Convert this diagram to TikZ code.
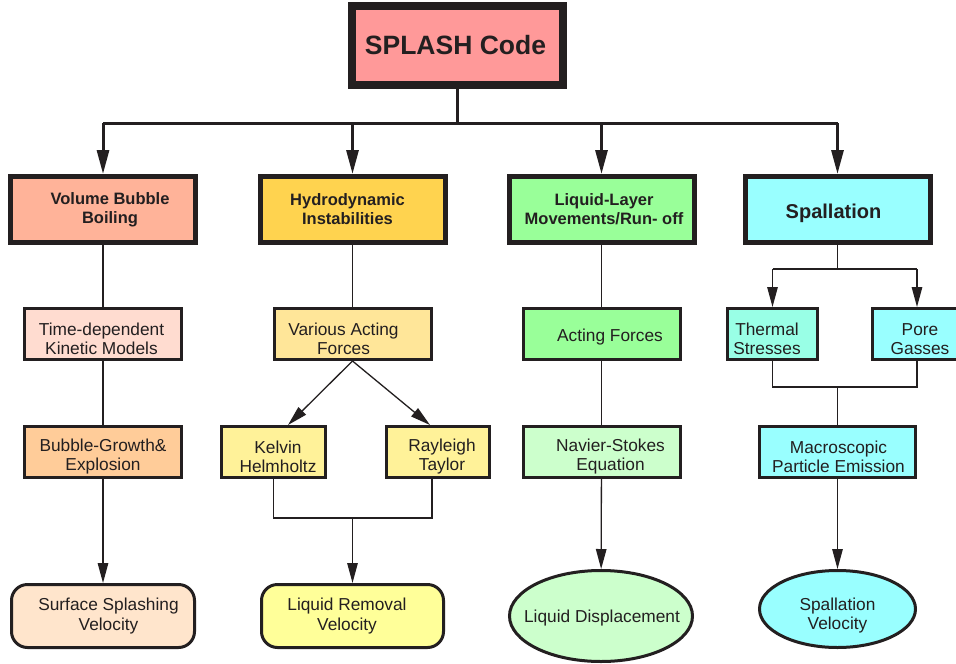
\documentclass[tikz,border=0pt]{standalone}
\usepackage{fontspec}
\setmainfont{Liberation Sans}
\usetikzlibrary{arrows.meta,calc,shapes.geometric}

\definecolor{ink}{HTML}{231F20}
\definecolor{cRoot}{HTML}{FF9999}
\definecolor{cBubble}{HTML}{FFB399}
\definecolor{cHydro}{HTML}{FFD34F}
\definecolor{cLiquid}{HTML}{99FF99}
\definecolor{cSpall}{HTML}{99FFFF}
\definecolor{cKinetic}{HTML}{FFDCD0}
\definecolor{cVarious}{HTML}{FFE699}
\definecolor{cGrowth}{HTML}{FFCC99}
\definecolor{cKH}{HTML}{FFF299}
\definecolor{cThermal}{HTML}{99FFE6}
\definecolor{cNavier}{HTML}{CCFFCC}
\definecolor{cSurface}{HTML}{FFE5CC}
\definecolor{cRemoval}{HTML}{FFFF99}

\tikzset{
  % box shapes (text is attached as a centred label so it can be nudged)
  rootbox/.style={draw=ink, line width=8pt, fill=cRoot, minimum width=211pt,
    minimum height=79pt, inner sep=0pt},
  topicbox/.style={draw=ink, line width=5pt, minimum width=185pt, minimum height=66pt,
    inner sep=0pt},
  itembox/.style={draw=ink, line width=3pt, minimum width=157pt, minimum height=51pt,
    inner sep=0pt},
  resultbox/.style={draw=ink, line width=3pt, rounded corners=16pt, minimum width=183pt,
    minimum height=63pt, inner sep=0pt},
  resultoval/.style={draw=ink, line width=3pt, ellipse, inner sep=0pt},
  % text styles
  roottext/.style={text=ink, font=\fontsize{26.5}{30}\selectfont\bfseries, inner sep=0pt},
  topictext/.style={text=ink, align=center, font=\fontsize{16.5}{19}\selectfont\bfseries, inner sep=0pt},
  itemtext/.style={text=ink, align=center, font=\fontsize{17.3}{19}\selectfont, inner sep=0pt, yshift=-5pt},
  resulttext/.style={text=ink, align=center, font=\fontsize{17.3}{19.5}\selectfont, inner sep=0pt},
  % connectors
  busline/.style={draw=ink, line width=3pt},
  busarrow/.style={draw=ink, line width=3pt, -{Triangle[length=24pt,width=12pt]}},
  link/.style={draw=ink, line width=1.3pt},
  linkarrow/.style={draw=ink, line width=1.3pt, -{Triangle[length=20pt,width=10.5pt]}},
}

\begin{document}
\begin{tikzpicture}[x=1pt,y=-1pt]
\useasboundingbox (0,0) rectangle (956,664);
\clip (0,0) rectangle (956,664);
\fill[white] (0,0) rectangle (956,664);

% root
\node[rootbox, label={[roottext, xshift=-2pt]center:SPLASH Code}] (root) at (457.5,45.5) {};

% topic row
\node[topicbox, fill=cBubble, label={[topictext, xshift=7pt]center:Volume Bubble\\Boiling}] (vbb) at (103,209.5) {};
\node[topicbox, fill=cHydro, label={[topictext, xshift=-5pt]center:Hydrodynamic\\Instabilities}] (hyd) at (352.5,209.5) {};
\node[topicbox, fill=cLiquid, label={[topictext, xshift=2.5pt]center:Liquid-Layer\\Movements/Run- off}] (llm) at (601.5,209.5) {};
\node[topicbox, fill=cSpall, label={[topictext, xshift=-4pt, yshift=-4pt, font=\fontsize{20}{22}\selectfont\bfseries]center:Spallation}] (spl) at (837.5,209.5) {};

% second row
\node[itembox, fill=cKinetic, label={[itemtext, xshift=-1.5pt]center:Time-dependent\\Kinetic Models}] (kin) at (103,334) {};
\node[itembox, fill=cVarious, label={[itemtext, xshift=-9pt]center:Various Acting\\Forces}] (var) at (352.5,334) {};
\node[itembox, fill=cLiquid, label={[itemtext, xshift=8.5pt, yshift=2pt]center:Acting Forces}] (act) at (601.5,334) {};
\node[itembox, fill=cThermal, minimum width=90pt, label={[itemtext, xshift=-5.5pt]center:Thermal\\Stresses}] (thm) at (772.5,334) {};
\node[itembox, fill=cSpall, minimum width=89pt, label={[itemtext, xshift=3pt]center:Pore\\Gasses}] (pore) at (917,334) {};

% third row
\node[itembox, fill=cGrowth, label={[itemtext]center:Bubble-Growth\&\\Explosion}] (grw) at (103,452) {};
\node[itembox, fill=cKH, minimum width=104pt, label={[itemtext, xshift=4.5pt]center:Kelvin\\Helmholtz}] (kel) at (273.5,452) {};
\node[itembox, fill=cKH, minimum width=103pt, label={[itemtext, xshift=4pt]center:Rayleigh\\Taylor}] (ray) at (438,452) {};
\node[itembox, fill=cNavier, label={[itemtext, xshift=9pt]center:Navier-Stokes\\Equation}] (nav) at (601.5,452) {};
\node[itembox, fill=cSpall, minimum width=156pt, label={[itemtext, xshift=1pt]center:Macroscopic\\Particle Emission}] (mac) at (837.5,452) {};

% results
\node[resultbox, fill=cSurface, label={[resulttext, xshift=5.5pt]center:Surface Splashing\\Velocity}] (ssv) at (103,616) {};
\node[resultbox, fill=cRemoval, minimum width=182pt, label={[resulttext, xshift=-5.5pt]center:Liquid Removal\\Velocity}] (lrv) at (352.5,616) {};
\node[resultoval, fill=cNavier, minimum width=183pt, minimum height=91pt, label={[resulttext, xshift=1pt, yshift=-2pt]center:Liquid Displacement}] (ldp) at (601,616) {};
\node[resultoval, fill=cSpall, minimum width=156pt, minimum height=77pt, label={[resulttext, yshift=-6.5pt]center:Spallation\\Velocity}] (spv) at (837.5,609) {};

% main distribution bus
\coordinate (bus) at (457.5,123);
\draw[busline] (root.south) -- (bus);
\draw[busline] (vbb.north |- bus) -- (spl.north |- bus);
\foreach \t in {vbb,hyd,llm,spl}
  \draw[busarrow] (\t.north |- bus) -- (\t.north);

% volume bubble boiling chain
\draw[link] (vbb) -- (kin);
\draw[link] (kin) -- (grw);
\draw[linkarrow] (grw) -- (ssv);

% hydrodynamic instabilities chain
\draw[link] (hyd) -- (var);
\draw[linkarrow] (var.south) -- ($(kel.north)+(14.5,0)$);
\draw[linkarrow] (var.south) -- ($(ray.north)+(-8,0)$);
\coordinate (khjoin) at (352.5,518);
\draw[link] (kel.south) |- (khjoin) -| ($(ray.south)+(-6,0)$);
\draw[linkarrow] (khjoin) -- (lrv.north);

% liquid layer chain
\draw[link] (llm) -- (act);
\draw[link] (act) -- (nav);
\draw[linkarrow] (nav) -- (ldp);

% spallation chain
\coordinate (spsplit) at (837.5,269);
\draw[link] (spl.south) -- (spsplit);
\draw[link] (thm.north |- spsplit) -- (pore.north |- spsplit);
\draw[linkarrow] (thm.north |- spsplit) -- (thm.north);
\draw[linkarrow] (pore.north |- spsplit) -- (pore.north);
\coordinate (spjoin) at (837.5,387);
\draw[link] (thm.south) |- (spjoin) -| (pore.south);
\draw[link] (spjoin) -- (mac.north);
\draw[linkarrow] (mac) -- (spv);
\end{tikzpicture}
\end{document}
